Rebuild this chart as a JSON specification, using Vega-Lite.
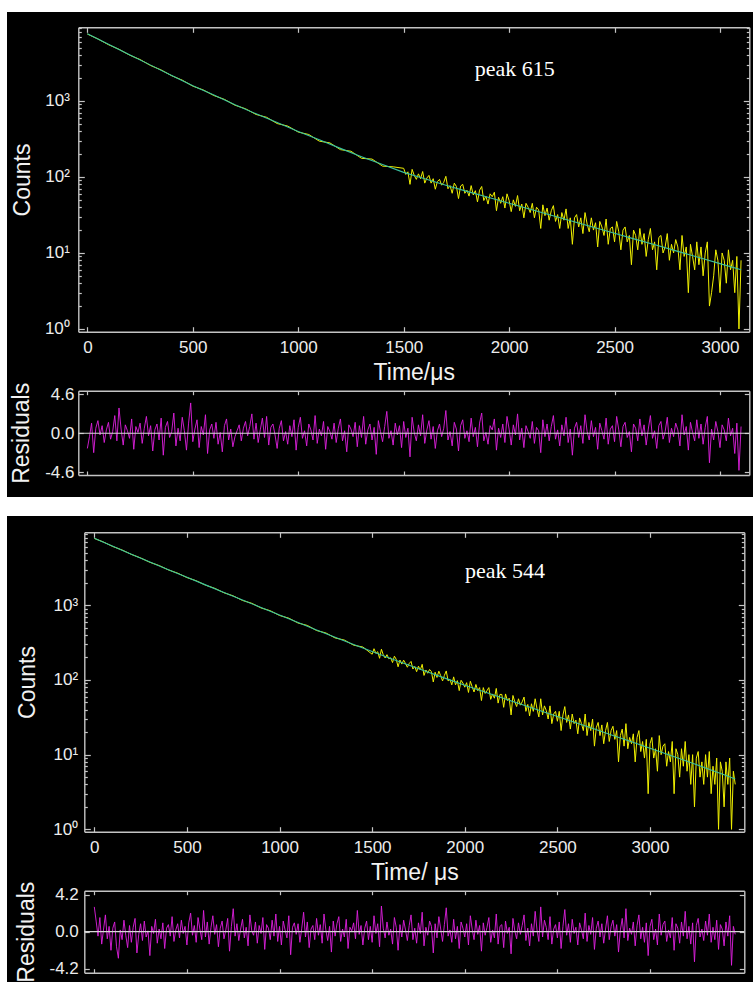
{
"$schema": "https://vega.github.io/schema/vega-lite/v6.json",
"background": "white",
"padding": {"left": 7, "top": 12, "right": 0, "bottom": 0},
"config": {
  "view": {"stroke": null, "fill": "black"},
  "axis": {"domainColor": "#c4c4c4", "domainWidth": 1.4, "tickColor": "#c4c4c4", "tickWidth": 1.2, "grid": false, "labelColor": "#ececec", "labelFont": "Liberation Sans", "labelFontSize": 17, "titleFont": "Liberation Sans", "titleFontSize": 23, "titleFontWeight": "normal", "titleColor": "#f2f2f2", "labelOverlap": false, "labelFlush": false}
},
"datasets": {
"p1data": [{"t":0,"counts":7600},{"t":50,"counts":6560},{"t":100,"counts":5510},{"t":150,"counts":4790},{"t":200,"counts":4020},{"t":250,"counts":3510},{"t":300,"counts":2930},{"t":350,"counts":2560},{"t":400,"counts":2150},{"t":450,"counts":1880},{"t":500,"counts":1570},{"t":550,"counts":1395},{"t":600,"counts":1180},{"t":650,"counts":1050},{"t":700,"counts":880},{"t":750,"counts":790},{"t":800,"counts":665},{"t":850,"counts":610},{"t":900,"counts":505},{"t":950,"counts":468},{"t":1000,"counts":390},{"t":1050,"counts":362},{"t":1100,"counts":296},{"t":1150,"counts":281},{"t":1200,"counts":229},{"t":1250,"counts":218},{"t":1300,"counts":176},{"t":1350,"counts":172},{"t":1400,"counts":139},{"t":1450,"counts":136},
{"t":1500,"counts":130},{"t":1510,"counts":108},{"t":1520,"counts":117},{"t":1530,"counts":80},{"t":1540,"counts":126},{"t":1550,"counts":105},{"t":1560,"counts":93},{"t":1570,"counts":110},{"t":1580,"counts":95},{"t":1590,"counts":118},
{"t":1600,"counts":83},{"t":1610,"counts":97},{"t":1620,"counts":105},{"t":1630,"counts":83},{"t":1640,"counts":95},{"t":1650,"counts":69},{"t":1660,"counts":87},{"t":1670,"counts":93},{"t":1680,"counts":78},{"t":1690,"counts":85},
{"t":1700,"counts":102},{"t":1710,"counts":70},{"t":1720,"counts":77},{"t":1730,"counts":61},{"t":1740,"counts":83},{"t":1750,"counts":75},{"t":1760,"counts":52},{"t":1770,"counts":76},{"t":1780,"counts":80},{"t":1790,"counts":61},
{"t":1800,"counts":67},{"t":1810,"counts":56},{"t":1820,"counts":77},{"t":1830,"counts":58},{"t":1840,"counts":66},{"t":1850,"counts":47},{"t":1860,"counts":67},{"t":1870,"counts":75},{"t":1880,"counts":49},{"t":1890,"counts":56},
{"t":1900,"counts":44},{"t":1910,"counts":60},{"t":1920,"counts":55},{"t":1930,"counts":63},{"t":1940,"counts":36},{"t":1950,"counts":54},{"t":1960,"counts":45},{"t":1970,"counts":55},{"t":1980,"counts":39},{"t":1990,"counts":60},
{"t":2000,"counts":49},{"t":2010,"counts":35},{"t":2020,"counts":50},{"t":2030,"counts":41},{"t":2040,"counts":57},{"t":2050,"counts":36},{"t":2060,"counts":44},{"t":2070,"counts":29},{"t":2080,"counts":45},{"t":2090,"counts":40},
{"t":2100,"counts":34},{"t":2110,"counts":45},{"t":2120,"counts":29},{"t":2130,"counts":40},{"t":2140,"counts":37},{"t":2150,"counts":21},{"t":2160,"counts":43},{"t":2170,"counts":31},{"t":2180,"counts":39},{"t":2190,"counts":27},
{"t":2200,"counts":36},{"t":2210,"counts":42},{"t":2220,"counts":26},{"t":2230,"counts":32},{"t":2240,"counts":21},{"t":2250,"counts":34},{"t":2260,"counts":27},{"t":2270,"counts":38},{"t":2280,"counts":21},{"t":2290,"counts":29},
{"t":2300,"counts":13},{"t":2310,"counts":29},{"t":2320,"counts":32},{"t":2330,"counts":22},{"t":2340,"counts":29},{"t":2350,"counts":18},{"t":2360,"counts":34},{"t":2370,"counts":24},{"t":2380,"counts":19},{"t":2390,"counts":29},
{"t":2400,"counts":20},{"t":2410,"counts":25},{"t":2420,"counts":12},{"t":2430,"counts":26},{"t":2440,"counts":22},{"t":2450,"counts":17},{"t":2460,"counts":28},{"t":2470,"counts":13},{"t":2480,"counts":21},{"t":2490,"counts":22},
{"t":2500,"counts":14},{"t":2510,"counts":26},{"t":2520,"counts":19},{"t":2530,"counts":11},{"t":2540,"counts":20},{"t":2550,"counts":22},{"t":2560,"counts":14},{"t":2570,"counts":17},{"t":2580,"counts":7},{"t":2590,"counts":20},
{"t":2600,"counts":17},{"t":2610,"counts":11},{"t":2620,"counts":21},{"t":2630,"counts":13},{"t":2640,"counts":18},{"t":2650,"counts":9},{"t":2660,"counts":15},{"t":2670,"counts":21},{"t":2680,"counts":11},{"t":2690,"counts":14},
{"t":2700,"counts":6},{"t":2710,"counts":16},{"t":2720,"counts":17},{"t":2730,"counts":10},{"t":2740,"counts":12},{"t":2750,"counts":18},{"t":2760,"counts":8},{"t":2770,"counts":13},{"t":2780,"counts":10},{"t":2790,"counts":15},
{"t":2800,"counts":12},{"t":2810,"counts":6},{"t":2820,"counts":17},{"t":2830,"counts":9},{"t":2840,"counts":12},{"t":2850,"counts":3},{"t":2860,"counts":13},{"t":2870,"counts":9},{"t":2880,"counts":6},{"t":2890,"counts":14},
{"t":2900,"counts":7},{"t":2910,"counts":12},{"t":2920,"counts":5},{"t":2930,"counts":10},{"t":2940,"counts":14},{"t":2950,"counts":2},{"t":2960,"counts":3},{"t":2970,"counts":5},{"t":2980,"counts":11},{"t":2990,"counts":8},
{"t":3000,"counts":3},{"t":3010,"counts":10},{"t":3020,"counts":8},{"t":3030,"counts":4},{"t":3040,"counts":11},{"t":3050,"counts":6},{"t":3060,"counts":8},{"t":3070,"counts":3},{"t":3080,"counts":9},{"t":3090,"counts":1},{"t":3100,"counts":8}],
"p1fit": [{"t":0,"fit":7656},{"t":100,"fit":5572},{"t":200,"fit":4055},{"t":300,"fit":2965},{"t":400,"fit":2168},{"t":500,"fit":1585},{"t":600,"fit":1197},{"t":700,"fit":893},{"t":800,"fit":679},{"t":900,"fit":520},{"t":1000,"fit":398},{"t":1100,"fit":308},{"t":1200,"fit":238},{"t":1300,"fit":185},{"t":1400,"fit":146},{"t":1500,"fit":115},{"t":1600,"fit":94.6},{"t":1700,"fit":78.0},{"t":1800,"fit":64.7},{"t":1900,"fit":54.1},{"t":2000,"fit":45.2},{"t":2100,"fit":37.6},{"t":2200,"fit":31.3},{"t":2300,"fit":26.1},{"t":2400,"fit":21.8},{"t":2500,"fit":18.2},{"t":2600,"fit":15.1},{"t":2700,"fit":12.6},{"t":2800,"fit":10.5},{"t":2900,"fit":8.7},{"t":3000,"fit":7.24},{"t":3100,"fit":6.03}],
"p1res": [{"t":0,"res":-1.8},{"t":10,"res":-0.4},{"t":20,"res":1.2},{"t":30,"res":-2.3},{"t":40,"res":0.6},{"t":50,"res":1.5},{"t":60,"res":-0.2},{"t":70,"res":0.9},{"t":80,"res":-1.1},{"t":90,"res":0.4},
{"t":100,"res":1.3},{"t":110,"res":-0.7},{"t":120,"res":0.2},{"t":130,"res":2.1},{"t":140,"res":-0.9},{"t":150,"res":3.0},{"t":160,"res":0.5},{"t":170,"res":-1.4},{"t":180,"res":1.0},{"t":190,"res":0.3},
{"t":200,"res":-0.6},{"t":210,"res":1.7},{"t":220,"res":-1.9},{"t":230,"res":0.8},{"t":240,"res":0.1},{"t":250,"res":1.2},{"t":260,"res":-1.2},{"t":270,"res":0.6},{"t":280,"res":2.0},{"t":290,"res":-0.3},
{"t":300,"res":0.9},{"t":310,"res":-2.1},{"t":320,"res":0.4},{"t":330,"res":1.1},{"t":340,"res":-0.8},{"t":350,"res":1.8},{"t":360,"res":-2.6},{"t":370,"res":0.7},{"t":380,"res":1.4},{"t":390,"res":-0.5},
{"t":400,"res":0.2},{"t":410,"res":2.4},{"t":420,"res":-1.5},{"t":430,"res":0.6},{"t":440,"res":-0.9},{"t":450,"res":1.9},{"t":460,"res":0.3},{"t":470,"res":-2.0},{"t":480,"res":1.2},{"t":490,"res":3.6},
{"t":500,"res":-1.0},{"t":510,"res":0.5},{"t":520,"res":1.6},{"t":530,"res":-1.7},{"t":540,"res":0.8},{"t":550,"res":-0.2},{"t":560,"res":2.2},{"t":570,"res":-2.4},{"t":580,"res":0.4},{"t":590,"res":1.1},
{"t":600,"res":-0.6},{"t":610,"res":1.3},{"t":620,"res":-1.3},{"t":630,"res":0.1},{"t":640,"res":-2.2},{"t":650,"res":0.9},{"t":660,"res":1.7},{"t":670,"res":-0.8},{"t":680,"res":0.5},{"t":690,"res":-1.6},
{"t":700,"res":-0.4},{"t":710,"res":0.3},{"t":720,"res":1.0},{"t":730,"res":-0.9},{"t":740,"res":0.6},{"t":750,"res":1.4},{"t":760,"res":-0.3},{"t":770,"res":0.8},{"t":780,"res":2.3},{"t":790,"res":-0.7},
{"t":800,"res":1.2},{"t":810,"res":-1.1},{"t":820,"res":0.4},{"t":830,"res":1.8},{"t":840,"res":-0.5},{"t":850,"res":2.0},{"t":860,"res":-1.4},{"t":870,"res":0.7},{"t":880,"res":1.1},{"t":890,"res":-0.2},
{"t":900,"res":-1.8},{"t":910,"res":0.6},{"t":920,"res":1.5},{"t":930,"res":-0.9},{"t":940,"res":0.2},{"t":950,"res":-1.3},{"t":960,"res":0.9},{"t":970,"res":-0.4},{"t":980,"res":1.6},{"t":990,"res":-2.0},
{"t":1000,"res":0.7},{"t":1010,"res":1.9},{"t":1020,"res":-0.6},{"t":1030,"res":0.3},{"t":1040,"res":-1.5},{"t":1050,"res":1.1},{"t":1060,"res":0.4},{"t":1070,"res":-0.8},{"t":1080,"res":2.1},{"t":1090,"res":-1.2},
{"t":1100,"res":0.5},{"t":1110,"res":-0.3},{"t":1120,"res":1.4},{"t":1130,"res":-1.9},{"t":1140,"res":0.8},{"t":1150,"res":0.2},{"t":1160,"res":-0.7},{"t":1170,"res":1.2},{"t":1180,"res":-1.1},{"t":1190,"res":0.6},
{"t":1200,"res":1.7},{"t":1210,"res":-0.9},{"t":1220,"res":0.3},{"t":1230,"res":-2.2},{"t":1240,"res":1.0},{"t":1250,"res":0.5},{"t":1260,"res":-0.4},{"t":1270,"res":1.3},{"t":1280,"res":-1.6},{"t":1290,"res":0.9},
{"t":1300,"res":-0.5},{"t":1310,"res":2.0},{"t":1320,"res":-1.3},{"t":1330,"res":0.4},{"t":1340,"res":1.1},{"t":1350,"res":-0.8},{"t":1360,"res":0.7},{"t":1370,"res":-2.5},{"t":1380,"res":1.5},{"t":1390,"res":0.2},
{"t":1400,"res":-1.0},{"t":1410,"res":0.8},{"t":1420,"res":2.6},{"t":1430,"res":-0.6},{"t":1440,"res":0.3},{"t":1450,"res":-1.4},{"t":1460,"res":1.2},{"t":1470,"res":-0.2},{"t":1480,"res":0.9},{"t":1490,"res":-1.7},
{"t":1500,"res":1.4},{"t":1510,"res":-0.5},{"t":1520,"res":0.6},{"t":1530,"res":-2.8},{"t":1540,"res":1.9},{"t":1550,"res":0.1},{"t":1560,"res":-0.9},{"t":1570,"res":1.0},{"t":1580,"res":-0.3},{"t":1590,"res":2.2},
{"t":1600,"res":-1.2},{"t":1610,"res":0.4},{"t":1620,"res":1.5},{"t":1630,"res":-0.7},{"t":1640,"res":0.8},{"t":1650,"res":-1.8},{"t":1660,"res":0.3},{"t":1670,"res":1.1},{"t":1680,"res":-0.4},{"t":1690,"res":0.6},
{"t":1700,"res":2.7},{"t":1710,"res":-0.8},{"t":1720,"res":0.2},{"t":1730,"res":-1.5},{"t":1740,"res":1.3},{"t":1750,"res":0.5},{"t":1760,"res":-2.1},{"t":1770,"res":0.9},{"t":1780,"res":1.6},{"t":1790,"res":-0.6},
{"t":1800,"res":0.3},{"t":1810,"res":-1.0},{"t":1820,"res":1.8},{"t":1830,"res":-0.4},{"t":1840,"res":0.7},{"t":1850,"res":-1.6},{"t":1860,"res":1.2},{"t":1870,"res":2.4},{"t":1880,"res":-0.9},{"t":1890,"res":0.1},
{"t":1900,"res":-1.3},{"t":1910,"res":0.9},{"t":1920,"res":0.4},{"t":1930,"res":1.7},{"t":1940,"res":-2.0},{"t":1950,"res":0.6},{"t":1960,"res":-0.5},{"t":1970,"res":1.1},{"t":1980,"res":-1.1},{"t":1990,"res":2.0},
{"t":2000,"res":0.5},{"t":2010,"res":-1.4},{"t":2020,"res":1.0},{"t":2030,"res":-0.2},{"t":2040,"res":2.3},{"t":2050,"res":-0.8},{"t":2060,"res":0.6},{"t":2070,"res":-1.7},{"t":2080,"res":0.9},{"t":2090,"res":0.2},
{"t":2100,"res":-0.6},{"t":2110,"res":1.4},{"t":2120,"res":-1.2},{"t":2130,"res":0.7},{"t":2140,"res":0.3},{"t":2150,"res":-2.3},{"t":2160,"res":1.6},{"t":2170,"res":-0.4},{"t":2180,"res":1.1},{"t":2190,"res":-0.9},
{"t":2200,"res":0.8},{"t":2210,"res":2.1},{"t":2220,"res":-0.7},{"t":2230,"res":0.4},{"t":2240,"res":-1.5},{"t":2250,"res":1.0},{"t":2260,"res":-0.3},{"t":2270,"res":1.9},{"t":2280,"res":-1.1},{"t":2290,"res":0.5},
{"t":2300,"res":-2.6},{"t":2310,"res":0.6},{"t":2320,"res":1.3},{"t":2330,"res":-0.5},{"t":2340,"res":0.9},{"t":2350,"res":-1.2},{"t":2360,"res":2.2},{"t":2370,"res":0.2},{"t":2380,"res":-0.8},{"t":2390,"res":1.5},
{"t":2400,"res":-0.4},{"t":2410,"res":0.7},{"t":2420,"res":-1.9},{"t":2430,"res":1.2},{"t":2440,"res":0.3},{"t":2450,"res":-0.7},{"t":2460,"res":1.8},{"t":2470,"res":-1.3},{"t":2480,"res":0.5},{"t":2490,"res":0.9},
{"t":2500,"res":-1.0},{"t":2510,"res":2.0},{"t":2520,"res":0.4},{"t":2530,"res":-1.6},{"t":2540,"res":0.8},{"t":2550,"res":1.3},{"t":2560,"res":-0.5},{"t":2570,"res":0.2},{"t":2580,"res":-2.2},{"t":2590,"res":1.1},
{"t":2600,"res":0.6},{"t":2610,"res":-0.9},{"t":2620,"res":1.7},{"t":2630,"res":-0.3},{"t":2640,"res":1.0},{"t":2650,"res":-1.4},{"t":2660,"res":0.5},{"t":2670,"res":2.1},{"t":2680,"res":-0.6},{"t":2690,"res":0.3},
{"t":2700,"res":-1.8},{"t":2710,"res":0.9},{"t":2720,"res":1.4},{"t":2730,"res":-0.7},{"t":2740,"res":0.2},{"t":2750,"res":1.9},{"t":2760,"res":-1.1},{"t":2770,"res":0.6},{"t":2780,"res":-0.4},{"t":2790,"res":1.2},
{"t":2800,"res":0.4},{"t":2810,"res":-1.5},{"t":2820,"res":2.2},{"t":2830,"res":-0.2},{"t":2840,"res":0.8},{"t":2850,"res":-2.0},{"t":2860,"res":1.3},{"t":2870,"res":0.1},{"t":2880,"res":-0.9},{"t":2890,"res":1.6},
{"t":2900,"res":-0.6},{"t":2910,"res":1.1},{"t":2920,"res":-1.3},{"t":2930,"res":0.7},{"t":2940,"res":2.0},{"t":2950,"res":-3.5},{"t":2960,"res":0.5},{"t":2970,"res":-0.8},{"t":2980,"res":1.4},{"t":2990,"res":0.2},
{"t":3000,"res":-1.7},{"t":3010,"res":1.0},{"t":3020,"res":0.4},{"t":3030,"res":-0.9},{"t":3040,"res":1.8},{"t":3050,"res":-0.3},{"t":3060,"res":0.6},{"t":3070,"res":-2.4},{"t":3080,"res":1.2},{"t":3090,"res":-4.4},{"t":3100,"res":0.8}],
"p2data": [{"t":0,"counts":7850},{"t":50,"counts":7010},{"t":100,"counts":6120},{"t":150,"counts":5490},{"t":200,"counts":4800},{"t":250,"counts":4300},{"t":300,"counts":3760},{"t":350,"counts":3400},{"t":400,"counts":2975},{"t":450,"counts":2690},{"t":500,"counts":2350},{"t":550,"counts":2130},{"t":600,"counts":1860},{"t":650,"counts":1685},{"t":700,"counts":1470},{"t":750,"counts":1335},{"t":800,"counts":1160},{"t":850,"counts":1062},{"t":900,"counts":921},{"t":950,"counts":845},{"t":1000,"counts":730},{"t":1050,"counts":672},{"t":1100,"counts":578},{"t":1150,"counts":537},{"t":1200,"counts":459},{"t":1250,"counts":426},{"t":1300,"counts":365},{"t":1350,"counts":342},{"t":1400,"counts":292},{"t":1450,"counts":276},
{"t":1500,"counts":221},{"t":1510,"counts":262},{"t":1520,"counts":227},{"t":1530,"counts":239},{"t":1540,"counts":195},{"t":1550,"counts":258},{"t":1560,"counts":217},{"t":1570,"counts":197},{"t":1580,"counts":218},{"t":1590,"counts":192},
{"t":1600,"counts":198},{"t":1610,"counts":171},{"t":1620,"counts":208},{"t":1630,"counts":189},{"t":1640,"counts":150},{"t":1650,"counts":185},{"t":1660,"counts":163},{"t":1670,"counts":184},{"t":1680,"counts":166},{"t":1690,"counts":148},
{"t":1700,"counts":166},{"t":1710,"counts":177},{"t":1720,"counts":140},{"t":1730,"counts":152},{"t":1740,"counts":129},{"t":1750,"counts":153},{"t":1760,"counts":136},{"t":1770,"counts":162},{"t":1780,"counts":115},{"t":1790,"counts":136},
{"t":1800,"counts":123},{"t":1810,"counts":138},{"t":1820,"counts":129},{"t":1830,"counts":94},{"t":1840,"counts":127},{"t":1850,"counts":108},{"t":1860,"counts":131},{"t":1870,"counts":114},{"t":1880,"counts":97},{"t":1890,"counts":115},
{"t":1900,"counts":132},{"t":1910,"counts":97},{"t":1920,"counts":102},{"t":1930,"counts":86},{"t":1940,"counts":110},{"t":1950,"counts":86},{"t":1960,"counts":98},{"t":1970,"counts":72},{"t":1980,"counts":99},{"t":1990,"counts":91},
{"t":2000,"counts":80},{"t":2010,"counts":92},{"t":2020,"counts":68},{"t":2030,"counts":96},{"t":2040,"counts":81},{"t":2050,"counts":69},{"t":2060,"counts":87},{"t":2070,"counts":72},{"t":2080,"counts":79},{"t":2090,"counts":53},
{"t":2100,"counts":79},{"t":2110,"counts":66},{"t":2120,"counts":72},{"t":2130,"counts":79},{"t":2140,"counts":55},{"t":2150,"counts":65},{"t":2160,"counts":57},{"t":2170,"counts":77},{"t":2180,"counts":49},{"t":2190,"counts":64},
{"t":2200,"counts":64},{"t":2210,"counts":43},{"t":2220,"counts":65},{"t":2230,"counts":53},{"t":2240,"counts":57},{"t":2250,"counts":34},{"t":2260,"counts":62},{"t":2270,"counts":51},{"t":2280,"counts":44},{"t":2290,"counts":56},
{"t":2300,"counts":46},{"t":2310,"counts":51},{"t":2320,"counts":59},{"t":2330,"counts":38},{"t":2340,"counts":47},{"t":2350,"counts":33},{"t":2360,"counts":48},{"t":2370,"counts":38},{"t":2380,"counts":56},{"t":2390,"counts":41},
{"t":2400,"counts":32},{"t":2410,"counts":56},{"t":2420,"counts":34},{"t":2430,"counts":45},{"t":2440,"counts":39},{"t":2450,"counts":30},{"t":2460,"counts":45},{"t":2470,"counts":26},{"t":2480,"counts":35},{"t":2490,"counts":38},
{"t":2500,"counts":28},{"t":2510,"counts":38},{"t":2520,"counts":21},{"t":2530,"counts":34},{"t":2540,"counts":44},{"t":2550,"counts":27},{"t":2560,"counts":34},{"t":2570,"counts":22},{"t":2580,"counts":35},{"t":2590,"counts":26},
{"t":2600,"counts":29},{"t":2610,"counts":19},{"t":2620,"counts":31},{"t":2630,"counts":26},{"t":2640,"counts":21},{"t":2650,"counts":35},{"t":2660,"counts":18},{"t":2670,"counts":27},{"t":2680,"counts":21},{"t":2690,"counts":30},
{"t":2700,"counts":13},{"t":2710,"counts":23},{"t":2720,"counts":27},{"t":2730,"counts":18},{"t":2740,"counts":25},{"t":2750,"counts":14},{"t":2760,"counts":21},{"t":2770,"counts":27},{"t":2780,"counts":15},{"t":2790,"counts":21},
{"t":2800,"counts":24},{"t":2810,"counts":16},{"t":2820,"counts":21},{"t":2830,"counts":8},{"t":2840,"counts":18},{"t":2850,"counts":22},{"t":2860,"counts":13},{"t":2870,"counts":26},{"t":2880,"counts":12},{"t":2890,"counts":17},
{"t":2900,"counts":14},{"t":2910,"counts":19},{"t":2920,"counts":8},{"t":2930,"counts":17},{"t":2940,"counts":21},{"t":2950,"counts":11},{"t":2960,"counts":15},{"t":2970,"counts":9},{"t":2980,"counts":16},{"t":2990,"counts":3},
{"t":3000,"counts":14},{"t":3010,"counts":17},{"t":3020,"counts":9},{"t":3030,"counts":12},{"t":3040,"counts":6},{"t":3050,"counts":18},{"t":3060,"counts":10},{"t":3070,"counts":13},{"t":3080,"counts":14},{"t":3090,"counts":7},
{"t":3100,"counts":11},{"t":3110,"counts":8},{"t":3120,"counts":15},{"t":3130,"counts":3},{"t":3140,"counts":12},{"t":3150,"counts":10},{"t":3160,"counts":5},{"t":3170,"counts":12},{"t":3180,"counts":7},{"t":3190,"counts":15},
{"t":3200,"counts":6},{"t":3210,"counts":10},{"t":3220,"counts":4},{"t":3230,"counts":10},{"t":3240,"counts":2},{"t":3250,"counts":9},{"t":3260,"counts":11},{"t":3270,"counts":5},{"t":3280,"counts":8},{"t":3290,"counts":4},
{"t":3300,"counts":10},{"t":3310,"counts":5},{"t":3320,"counts":11},{"t":3330,"counts":3},{"t":3340,"counts":7},{"t":3350,"counts":4},{"t":3360,"counts":9},{"t":3370,"counts":1},{"t":3380,"counts":8},{"t":3390,"counts":6},
{"t":3400,"counts":2},{"t":3410,"counts":8},{"t":3420,"counts":4},{"t":3430,"counts":9},{"t":3440,"counts":1},{"t":3450,"counts":6},{"t":3460,"counts":4}],
"p2fit": [{"t":0,"fit":7889},{"t":100,"fit":6166},{"t":200,"fit":4831},{"t":300,"fit":3793},{"t":400,"fit":2999},{"t":500,"fit":2371},{"t":600,"fit":1875},{"t":700,"fit":1483},{"t":800,"fit":1175},{"t":900,"fit":933},{"t":1000,"fit":741},{"t":1100,"fit":589},{"t":1200,"fit":468},{"t":1300,"fit":373},{"t":1400,"fit":299},{"t":1500,"fit":239.9},{"t":1600,"fit":194.1},{"t":1700,"fit":157.0},{"t":1800,"fit":127.6},{"t":1900,"fit":104.2},{"t":2000,"fit":85.1},{"t":2100,"fit":70.1},{"t":2200,"fit":57.8},{"t":2300,"fit":47.6},{"t":2400,"fit":39.3},{"t":2500,"fit":32.4},{"t":2600,"fit":26.7},{"t":2700,"fit":22.0},{"t":2800,"fit":18.1},{"t":2900,"fit":14.85},{"t":3000,"fit":12.19},{"t":3100,"fit":10.0},{"t":3200,"fit":8.18},{"t":3300,"fit":6.61},{"t":3400,"fit":5.37},{"t":3460,"fit":4.72}],
"p2res": [{"t":0,"res":2.8},{"t":10,"res":1.2},{"t":20,"res":-0.5},{"t":30,"res":1.6},{"t":40,"res":-1.4},{"t":50,"res":0.3},{"t":60,"res":1.9},{"t":70,"res":-0.8},{"t":80,"res":0.6},{"t":90,"res":-2.1},
{"t":100,"res":0.4},{"t":110,"res":1.1},{"t":120,"res":-1.7},{"t":130,"res":-3.0},{"t":140,"res":0.2},{"t":150,"res":-0.9},{"t":160,"res":1.3},{"t":170,"res":-0.4},{"t":180,"res":-1.8},{"t":190,"res":0.7},
{"t":200,"res":-1.2},{"t":210,"res":0.5},{"t":220,"res":1.5},{"t":230,"res":-2.4},{"t":240,"res":-0.3},{"t":250,"res":0.9},{"t":260,"res":-1.0},{"t":270,"res":1.2},{"t":280,"res":-0.6},{"t":290,"res":0.1},
{"t":300,"res":-2.7},{"t":310,"res":0.6},{"t":320,"res":-0.2},{"t":330,"res":1.4},{"t":340,"res":-1.3},{"t":350,"res":0.3},{"t":360,"res":-0.8},{"t":370,"res":1.0},{"t":380,"res":-1.9},{"t":390,"res":0.4},
{"t":400,"res":0.8},{"t":410,"res":-0.5},{"t":420,"res":1.7},{"t":430,"res":-1.1},{"t":440,"res":0.2},{"t":450,"res":0.9},{"t":460,"res":-0.7},{"t":470,"res":1.3},{"t":480,"res":-0.2},{"t":490,"res":0.6},
{"t":500,"res":-1.5},{"t":510,"res":1.0},{"t":520,"res":2.1},{"t":530,"res":-0.4},{"t":540,"res":0.7},{"t":550,"res":-1.2},{"t":560,"res":1.6},{"t":570,"res":0.3},{"t":580,"res":-0.9},{"t":590,"res":2.4},
{"t":600,"res":-0.6},{"t":610,"res":1.1},{"t":620,"res":-1.4},{"t":630,"res":0.5},{"t":640,"res":1.8},{"t":650,"res":-0.3},{"t":660,"res":0.8},{"t":670,"res":-1.7},{"t":680,"res":0.4},{"t":690,"res":1.2},
{"t":700,"res":-0.8},{"t":710,"res":0.2},{"t":720,"res":1.5},{"t":730,"res":-2.2},{"t":740,"res":0.6},{"t":750,"res":2.6},{"t":760,"res":-0.5},{"t":770,"res":0.9},{"t":780,"res":-1.0},{"t":790,"res":0.3},
{"t":800,"res":1.4},{"t":810,"res":-0.7},{"t":820,"res":0.5},{"t":830,"res":-1.6},{"t":840,"res":1.9},{"t":850,"res":0.1},{"t":860,"res":-0.4},{"t":870,"res":1.1},{"t":880,"res":-1.3},{"t":890,"res":0.7},
{"t":900,"res":-0.2},{"t":910,"res":1.6},{"t":920,"res":-2.0},{"t":930,"res":0.8},{"t":940,"res":0.4},{"t":950,"res":-0.9},{"t":960,"res":1.3},{"t":970,"res":-0.5},{"t":980,"res":2.0},{"t":990,"res":-1.1},
{"t":1000,"res":0.6},{"t":1010,"res":-1.5},{"t":1020,"res":1.2},{"t":1030,"res":0.2},{"t":1040,"res":-0.7},{"t":1050,"res":1.8},{"t":1060,"res":-2.6},{"t":1070,"res":0.5},{"t":1080,"res":1.0},{"t":1090,"res":-0.3},
{"t":1100,"res":0.9},{"t":1110,"res":-1.2},{"t":1120,"res":0.4},{"t":1130,"res":2.2},{"t":1140,"res":-0.6},{"t":1150,"res":1.1},{"t":1160,"res":-1.8},{"t":1170,"res":0.3},{"t":1180,"res":0.7},{"t":1190,"res":-0.9},
{"t":1200,"res":1.5},{"t":1210,"res":-0.4},{"t":1220,"res":0.8},{"t":1230,"res":-1.3},{"t":1240,"res":2.0},{"t":1250,"res":0.2},{"t":1260,"res":-1.0},{"t":1270,"res":0.6},{"t":1280,"res":-2.3},{"t":1290,"res":1.2},
{"t":1300,"res":-0.5},{"t":1310,"res":0.9},{"t":1320,"res":1.7},{"t":1330,"res":-1.1},{"t":1340,"res":0.3},{"t":1350,"res":-0.6},{"t":1360,"res":1.4},{"t":1370,"res":-1.9},{"t":1380,"res":0.5},{"t":1390,"res":0.1},
{"t":1400,"res":1.0},{"t":1410,"res":-0.8},{"t":1420,"res":2.4},{"t":1430,"res":-0.3},{"t":1440,"res":0.7},{"t":1450,"res":-1.5},{"t":1460,"res":0.4},{"t":1470,"res":1.2},{"t":1480,"res":-0.9},{"t":1490,"res":0.6},
{"t":1500,"res":-1.2},{"t":1510,"res":1.8},{"t":1520,"res":-0.2},{"t":1530,"res":0.9},{"t":1540,"res":-1.7},{"t":1550,"res":2.9},{"t":1560,"res":0.4},{"t":1570,"res":-0.7},{"t":1580,"res":1.1},{"t":1590,"res":-0.4},
{"t":1600,"res":0.3},{"t":1610,"res":-1.4},{"t":1620,"res":1.6},{"t":1630,"res":0.5},{"t":1640,"res":-2.1},{"t":1650,"res":0.8},{"t":1660,"res":-0.6},{"t":1670,"res":1.3},{"t":1680,"res":0.2},{"t":1690,"res":-1.0},
{"t":1700,"res":0.7},{"t":1710,"res":1.9},{"t":1720,"res":-0.9},{"t":1730,"res":0.4},{"t":1740,"res":-1.3},{"t":1750,"res":1.0},{"t":1760,"res":-0.2},{"t":1770,"res":2.2},{"t":1780,"res":-1.6},{"t":1790,"res":0.5},
{"t":1800,"res":-0.4},{"t":1810,"res":1.2},{"t":1820,"res":0.6},{"t":1830,"res":-2.4},{"t":1840,"res":0.9},{"t":1850,"res":-0.7},{"t":1860,"res":1.7},{"t":1870,"res":0.3},{"t":1880,"res":-1.1},{"t":1890,"res":0.8},
{"t":1900,"res":2.7},{"t":1910,"res":-0.5},{"t":1920,"res":0.2},{"t":1930,"res":-1.2},{"t":1940,"res":1.4},{"t":1950,"res":-0.8},{"t":1960,"res":0.6},{"t":1970,"res":-1.9},{"t":1980,"res":1.1},{"t":1990,"res":0.4},
{"t":2000,"res":-0.6},{"t":2010,"res":0.9},{"t":2020,"res":-1.5},{"t":2030,"res":1.8},{"t":2040,"res":0.3},{"t":2050,"res":-0.9},{"t":2060,"res":1.3},{"t":2070,"res":-0.3},{"t":2080,"res":0.7},{"t":2090,"res":-2.2},
{"t":2100,"res":1.0},{"t":2110,"res":-0.4},{"t":2120,"res":0.5},{"t":2130,"res":1.6},{"t":2140,"res":-1.2},{"t":2150,"res":0.2},{"t":2160,"res":-0.7},{"t":2170,"res":2.0},{"t":2180,"res":-1.4},{"t":2190,"res":0.6},
{"t":2200,"res":0.8},{"t":2210,"res":-1.8},{"t":2220,"res":1.2},{"t":2230,"res":-0.2},{"t":2240,"res":0.5},{"t":2250,"res":-2.5},{"t":2260,"res":1.5},{"t":2270,"res":0.1},{"t":2280,"res":-0.8},{"t":2290,"res":1.0},
{"t":2300,"res":-0.3},{"t":2310,"res":0.7},{"t":2320,"res":1.9},{"t":2330,"res":-1.0},{"t":2340,"res":0.4},{"t":2350,"res":-1.6},{"t":2360,"res":0.9},{"t":2370,"res":-0.5},{"t":2380,"res":2.3},{"t":2390,"res":0.2},
{"t":2400,"res":-1.1},{"t":2410,"res":2.8},{"t":2420,"res":-0.6},{"t":2430,"res":1.3},{"t":2440,"res":0.5},{"t":2450,"res":-0.9},{"t":2460,"res":1.7},{"t":2470,"res":-1.4},{"t":2480,"res":0.3},{"t":2490,"res":0.8},
{"t":2500,"res":-0.7},{"t":2510,"res":1.1},{"t":2520,"res":-1.9},{"t":2530,"res":0.6},{"t":2540,"res":2.5},{"t":2550,"res":-0.4},{"t":2560,"res":0.9},{"t":2570,"res":-1.2},{"t":2580,"res":1.4},{"t":2590,"res":-0.2},
{"t":2600,"res":0.5},{"t":2610,"res":-1.5},{"t":2620,"res":1.0},{"t":2630,"res":0.2},{"t":2640,"res":-0.8},{"t":2650,"res":2.1},{"t":2660,"res":-1.1},{"t":2670,"res":0.7},{"t":2680,"res":-0.3},{"t":2690,"res":1.6},
{"t":2700,"res":-2.0},{"t":2710,"res":0.4},{"t":2720,"res":1.2},{"t":2730,"res":-0.6},{"t":2740,"res":0.9},{"t":2750,"res":-1.3},{"t":2760,"res":0.3},{"t":2770,"res":1.8},{"t":2780,"res":-0.9},{"t":2790,"res":0.6},
{"t":2800,"res":1.3},{"t":2810,"res":-0.5},{"t":2820,"res":0.8},{"t":2830,"res":-2.3},{"t":2840,"res":0.2},{"t":2850,"res":1.5},{"t":2860,"res":-0.7},{"t":2870,"res":2.6},{"t":2880,"res":-1.0},{"t":2890,"res":0.4},
{"t":2900,"res":-0.3},{"t":2910,"res":1.1},{"t":2920,"res":-1.6},{"t":2930,"res":0.7},{"t":2940,"res":1.9},{"t":2950,"res":-0.8},{"t":2960,"res":0.5},{"t":2970,"res":-1.2},{"t":2980,"res":1.0},{"t":2990,"res":-2.7},
{"t":3000,"res":0.6},{"t":3010,"res":1.4},{"t":3020,"res":-0.9},{"t":3030,"res":0.3},{"t":3040,"res":-1.5},{"t":3050,"res":2.0},{"t":3060,"res":-0.4},{"t":3070,"res":0.8},{"t":3080,"res":1.2},{"t":3090,"res":-1.1},
{"t":3100,"res":0.2},{"t":3110,"res":-0.7},{"t":3120,"res":1.6},{"t":3130,"res":-2.1},{"t":3140,"res":0.9},{"t":3150,"res":0.4},{"t":3160,"res":-1.3},{"t":3170,"res":1.1},{"t":3180,"res":-0.5},{"t":3190,"res":2.3},
{"t":3200,"res":-0.8},{"t":3210,"res":0.6},{"t":3220,"res":-1.4},{"t":3230,"res":1.0},{"t":3240,"res":-3.4},{"t":3250,"res":0.7},{"t":3260,"res":1.5},{"t":3270,"res":-0.6},{"t":3280,"res":0.3},{"t":3290,"res":-1.0},
{"t":3300,"res":1.2},{"t":3310,"res":-0.4},{"t":3320,"res":2.0},{"t":3330,"res":-1.2},{"t":3340,"res":0.5},{"t":3350,"res":-0.9},{"t":3360,"res":1.3},{"t":3370,"res":-2.0},{"t":3380,"res":0.8},{"t":3390,"res":0.3},
{"t":3400,"res":-1.6},{"t":3410,"res":1.1},{"t":3420,"res":-0.5},{"t":3430,"res":1.8},{"t":3440,"res":-3.8},{"t":3450,"res":0.6},{"t":3460,"res":-0.3}]
},
"vconcat": [
 {"vconcat": [
  {"width": 746, "height": 377,
   "layer": [
    {"data": {"name": "p1data"},
     "mark": {"type": "line", "color": "#f0f000", "strokeWidth": 1},
     "encoding": {
      "x": {"field": "t", "type": "quantitative", "scale": {"domain": [-43, 3139], "range": [71.3, 742.3], "nice": false, "zero": false},
            "axis": {"orient": "bottom", "offset": -57.3, "values": [0,500,1000,1500,2000,2500,3000], "format": "d", "tickSize": -5, "labelPadding": 13, "title": "Time/μs", "titlePadding": 6}},
      "y": {"field": "counts", "type": "quantitative", "scale": {"type": "log", "domain": [0.92, 9330], "range": [319.7, 15.3], "nice": false},
            "axis": {"orient": "left", "offset": -71.3, "values": [1,2,3,4,5,6,7,8,9,10,20,30,40,50,60,70,80,90,100,200,300,400,500,600,700,800,900,1000,2000,3000,4000,5000,6000,7000,8000,9000],
                     "labelExpr": "datum.value == 1 ? '10⁰' : datum.value == 10 ? '10¹' : datum.value == 100 ? '10²' : datum.value == 1000 ? '10³' : ''",
                     "tickSize": {"condition": {"test": "datum.value == 1 || datum.value == 10 || datum.value == 100 || datum.value == 1000", "value": -6}, "value": -3},
                     "labelPadding": 15, "title": "Counts", "titlePadding": 10}}
     }},
    {"data": {"name": "p1fit"},
     "mark": {"type": "line", "color": "#38c0a0", "strokeWidth": 1.1},
     "encoding": {
      "x": {"field": "t", "type": "quantitative", "axis": {"orient": "top", "offset": -15.3, "values": [0,500,1000,1500,2000,2500,3000], "tickSize": -5, "labels": false, "title": null}},
      "y": {"field": "fit", "type": "quantitative", "axis": {"orient": "right", "offset": -3.7, "values": [1,2,3,4,5,6,7,8,9,10,20,30,40,50,60,70,80,90,100,200,300,400,500,600,700,800,900,1000,2000,3000,4000,5000,6000,7000,8000,9000],
            "tickSize": {"condition": {"test": "datum.value == 1 || datum.value == 10 || datum.value == 100 || datum.value == 1000", "value": -6}, "value": -3}, "labels": false, "title": null}}
     }},
    {"data": {"values": [{"label": "peak 615"}]},
     "mark": {"type": "text", "font": "Liberation Serif", "fontSize": 22, "color": "white", "align": "center", "baseline": "alphabetic"},
     "encoding": {
      "x": {"datum": 2027, "type": "quantitative", "axis": null},
      "y": {"datum": 2130, "type": "quantitative", "axis": null},
      "text": {"field": "label"}
     }}
   ],
   "resolve": {"axis": {"x": "independent", "y": "independent"}}
  },
  {"width": 746, "height": 108,
   "layer": [
    {"data": {"name": "p1res"},
     "mark": {"type": "line", "color": "#e020e0", "strokeWidth": 0.9},
     "encoding": {
      "x": {"field": "t", "type": "quantitative", "scale": {"domain": [-43, 3139], "range": [71.3, 742.3], "nice": false, "zero": false},
            "axis": {"orient": "bottom", "offset": -22, "values": [0,500,1000,1500,2000,2500,3000], "tickSize": -4, "labels": false, "title": null}},
      "y": {"field": "res", "type": "quantitative", "scale": {"domain": [-4.95, 5.05], "range": [86, 1.7], "nice": false, "zero": false},
            "axis": {"orient": "left", "offset": -71.3, "values": [-4.6, 0, 4.6], "format": ".1f", "labelExpr": "replace(datum.label, '−', '-')", "tickSize": -5, "labelPadding": 9.3, "title": "Residuals", "titlePadding": 11}}
     }},
    {"data": {"values": [{}]},
     "mark": {"type": "rule", "color": "#d8d8d8", "strokeWidth": 1.2},
     "encoding": {
      "x": {"datum": -43, "type": "quantitative", "axis": {"orient": "top", "offset": -1.7, "values": [0,500,1000,1500,2000,2500,3000], "tickSize": -4, "labels": false, "title": null}},
      "x2": {"datum": 3139},
      "y": {"datum": 0, "type": "quantitative", "axis": {"orient": "right", "offset": -3.7, "values": [-4.6, 0, 4.6], "tickSize": -5, "labels": false, "title": null}}
     }}
   ],
   "resolve": {"axis": {"x": "independent", "y": "independent"}}
  }
 ], "spacing": 0, "bounds": "flush"},
 {"vconcat": [
  {"width": 746, "height": 372,
   "layer": [
    {"data": {"name": "p2data"},
     "mark": {"type": "line", "color": "#f0f000", "strokeWidth": 1},
     "encoding": {
      "x": {"field": "t", "type": "quantitative", "scale": {"domain": [-54, 3509], "range": [77.3, 737.3], "nice": false, "zero": false},
            "axis": {"orient": "bottom", "offset": -56.3, "values": [0,500,1000,1500,2000,2500,3000], "format": "d", "tickSize": -5, "labelPadding": 13, "title": "Time/ μs", "titlePadding": 6}},
      "y": {"field": "counts", "type": "quantitative", "scale": {"type": "log", "domain": [0.93, 9480], "range": [315.7, 16.3], "nice": false},
            "axis": {"orient": "left", "offset": -77.3, "values": [1,2,3,4,5,6,7,8,9,10,20,30,40,50,60,70,80,90,100,200,300,400,500,600,700,800,900,1000,2000,3000,4000,5000,6000,7000,8000,9000],
                     "labelExpr": "datum.value == 1 ? '10⁰' : datum.value == 10 ? '10¹' : datum.value == 100 ? '10²' : datum.value == 1000 ? '10³' : ''",
                     "tickSize": {"condition": {"test": "datum.value == 1 || datum.value == 10 || datum.value == 100 || datum.value == 1000", "value": -6}, "value": -3},
                     "labelPadding": 12.6, "title": "Counts", "titlePadding": 13}}
     }},
    {"data": {"name": "p2fit"},
     "mark": {"type": "line", "color": "#38c0a0", "strokeWidth": 1.1},
     "encoding": {
      "x": {"field": "t", "type": "quantitative", "axis": {"orient": "top", "offset": -16.3, "values": [0,500,1000,1500,2000,2500,3000], "tickSize": -5, "labels": false, "title": null}},
      "y": {"field": "fit", "type": "quantitative", "axis": {"orient": "right", "offset": -8.7, "values": [1,2,3,4,5,6,7,8,9,10,20,30,40,50,60,70,80,90,100,200,300,400,500,600,700,800,900,1000,2000,3000,4000,5000,6000,7000,8000,9000],
            "tickSize": {"condition": {"test": "datum.value == 1 || datum.value == 10 || datum.value == 100 || datum.value == 1000", "value": -6}, "value": -3}, "labels": false, "title": null}}
     }},
    {"data": {"values": [{"label": "peak 544"}]},
     "mark": {"type": "text", "font": "Liberation Serif", "fontSize": 22, "color": "white", "align": "center", "baseline": "alphabetic"},
     "encoding": {
      "x": {"datum": 2217, "type": "quantitative", "axis": null},
      "y": {"datum": 2318, "type": "quantitative", "axis": null},
      "text": {"field": "label"}
     }}
   ],
   "resolve": {"axis": {"x": "independent", "y": "independent"}}
  },
  {"width": 746, "height": 94,
   "layer": [
    {"data": {"name": "p2res"},
     "mark": {"type": "line", "color": "#e020e0", "strokeWidth": 0.9},
     "encoding": {
      "x": {"field": "t", "type": "quantitative", "scale": {"domain": [-54, 3509], "range": [77.3, 737.3], "nice": false, "zero": false},
            "axis": {"orient": "bottom", "offset": -9.3, "values": [0,500,1000,1500,2000,2500,3000], "tickSize": -4, "labels": false, "title": null}},
      "y": {"field": "res", "type": "quantitative", "scale": {"domain": [-4.63, 4.63], "range": [84.7, 2.7], "nice": false, "zero": false},
            "axis": {"orient": "left", "offset": -77.3, "values": [-4.2, 0, 4.2], "format": ".1f", "labelExpr": "replace(datum.label, '−', '-')", "tickSize": -5, "labelPadding": 11, "title": "Residuals", "titlePadding": 10.5}}
     }},
    {"data": {"values": [{}]},
     "mark": {"type": "rule", "color": "#d8d8d8", "strokeWidth": 1.2},
     "encoding": {
      "x": {"datum": -54, "type": "quantitative", "axis": {"orient": "top", "offset": -2.7, "values": [0,500,1000,1500,2000,2500,3000], "tickSize": -4, "labels": false, "title": null}},
      "x2": {"datum": 3509},
      "y": {"datum": 0, "type": "quantitative", "axis": {"orient": "right", "offset": -8.7, "values": [-4.2, 0, 4.2], "tickSize": -5, "labels": false, "title": null}}
     }}
   ],
   "resolve": {"axis": {"x": "independent", "y": "independent"}}
  }
 ], "spacing": 0, "bounds": "flush"}
],
"spacing": 19,
"bounds": "full"
}
